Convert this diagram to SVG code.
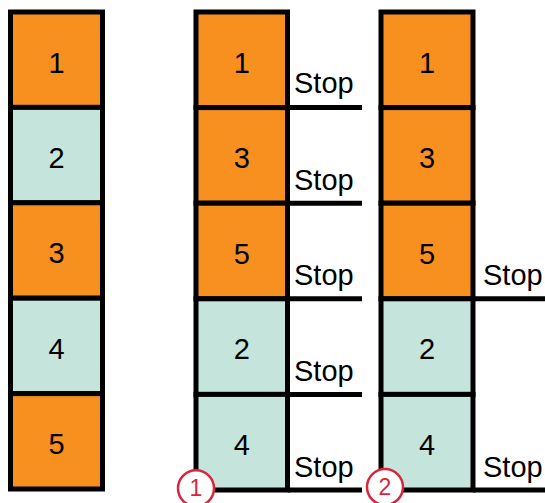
<svg xmlns="http://www.w3.org/2000/svg" width="545" height="503" viewBox="0 0 545 503">
<style>
.o{fill:#F7901E;stroke:#000;stroke-width:5}
.t{fill:#C5E4DC;stroke:#000;stroke-width:5}
.n{font-family:"Liberation Sans",Arial,sans-serif;font-size:29px;fill:#000;text-anchor:middle}
.s{font-family:"Liberation Sans",Arial,sans-serif;font-size:29px;fill:#000}
.l{stroke:#000;stroke-width:5;fill:none}
.c{fill:#fff;stroke:#D9253D;stroke-width:2.5}
.cn{font-family:"Liberation Sans",Arial,sans-serif;font-size:23px;fill:#D9253D;text-anchor:middle}
</style>
<g id="left-column">
<g id="L1"><rect class="o" x="10.5" y="12" width="92" height="95.4"/><text class="n" x="56.5" y="72.5">1</text></g>
<g id="L2"><rect class="t" x="10.5" y="107.4" width="92" height="95.4"/><text class="n" x="56.5" y="167.5">2</text></g>
<g id="L3"><rect class="o" x="10.5" y="202.8" width="92" height="95.4"/><text class="n" x="56.5" y="263">3</text></g>
<g id="L4"><rect class="t" x="10.5" y="298.2" width="92" height="95.4"/><text class="n" x="56.5" y="358.5">4</text></g>
<g id="L5"><rect class="o" x="10.5" y="393.6" width="92" height="95.4"/><text class="n" x="56.5" y="454">5</text></g>
</g>
<g id="middle-column">
<g id="M1"><rect class="o" x="196" y="12" width="91.5" height="95.6"/><text class="n" x="241.75" y="72.6">1</text></g>
<g id="M3"><rect class="o" x="196" y="107.6" width="91.5" height="95.6"/><text class="n" x="241.75" y="168.2">3</text></g>
<g id="M5"><rect class="o" x="196" y="203.2" width="91.5" height="95.6"/><text class="n" x="241.75" y="263.8">5</text></g>
<g id="M2"><rect class="t" x="196" y="298.8" width="91.5" height="95.6"/><text class="n" x="241.75" y="359.4">2</text></g>
<g id="M4"><rect class="t" x="196" y="394.4" width="91.5" height="95.6"/><text class="n" x="241.75" y="455">4</text></g>
</g>
<g id="right-column">
<g id="R1"><rect class="o" x="381" y="12" width="92" height="95.6"/><text class="n" x="427" y="72.6">1</text></g>
<g id="R3"><rect class="o" x="381" y="107.6" width="92" height="95.6"/><text class="n" x="427" y="168.2">3</text></g>
<g id="R5"><rect class="o" x="381" y="203.2" width="92" height="95.6"/><text class="n" x="427" y="263.8">5</text></g>
<g id="R2"><rect class="t" x="381" y="298.8" width="92" height="95.6"/><text class="n" x="427" y="359.4">2</text></g>
<g id="R4"><rect class="t" x="381" y="394.4" width="92" height="95.6"/><text class="n" x="427" y="455">4</text></g>
</g>
<g id="stop-lines">
<line class="l" x1="287.5" y1="107.6" x2="362" y2="107.6"/>
<line class="l" x1="287.5" y1="203.2" x2="362" y2="203.2"/>
<line class="l" x1="287.5" y1="298.8" x2="362" y2="298.8"/>
<line class="l" x1="287.5" y1="394.4" x2="362" y2="394.4"/>
<line class="l" x1="287.5" y1="490" x2="362" y2="490"/>
<line class="l" x1="473" y1="298.8" x2="545" y2="298.8"/>
<line class="l" x1="473" y1="490" x2="545" y2="490"/>
</g>
<g id="stop-labels">
<text class="s" x="294" y="93">Stop</text>
<text class="s" x="294" y="189.5">Stop</text>
<text class="s" x="294" y="285">Stop</text>
<text class="s" x="294" y="380.5">Stop</text>
<text class="s" x="294" y="476.5">Stop</text>
<text class="s" x="483" y="285">Stop</text>
<text class="s" x="483" y="476.5">Stop</text>
</g>
<g id="marker-1"><circle class="c" cx="196" cy="488.3" r="18"/><text class="cn" x="196" y="495.5">1</text></g>
<g id="marker-2"><circle class="c" cx="385" cy="487" r="18"/><text class="cn" x="385" y="495">2</text></g>
</svg>
